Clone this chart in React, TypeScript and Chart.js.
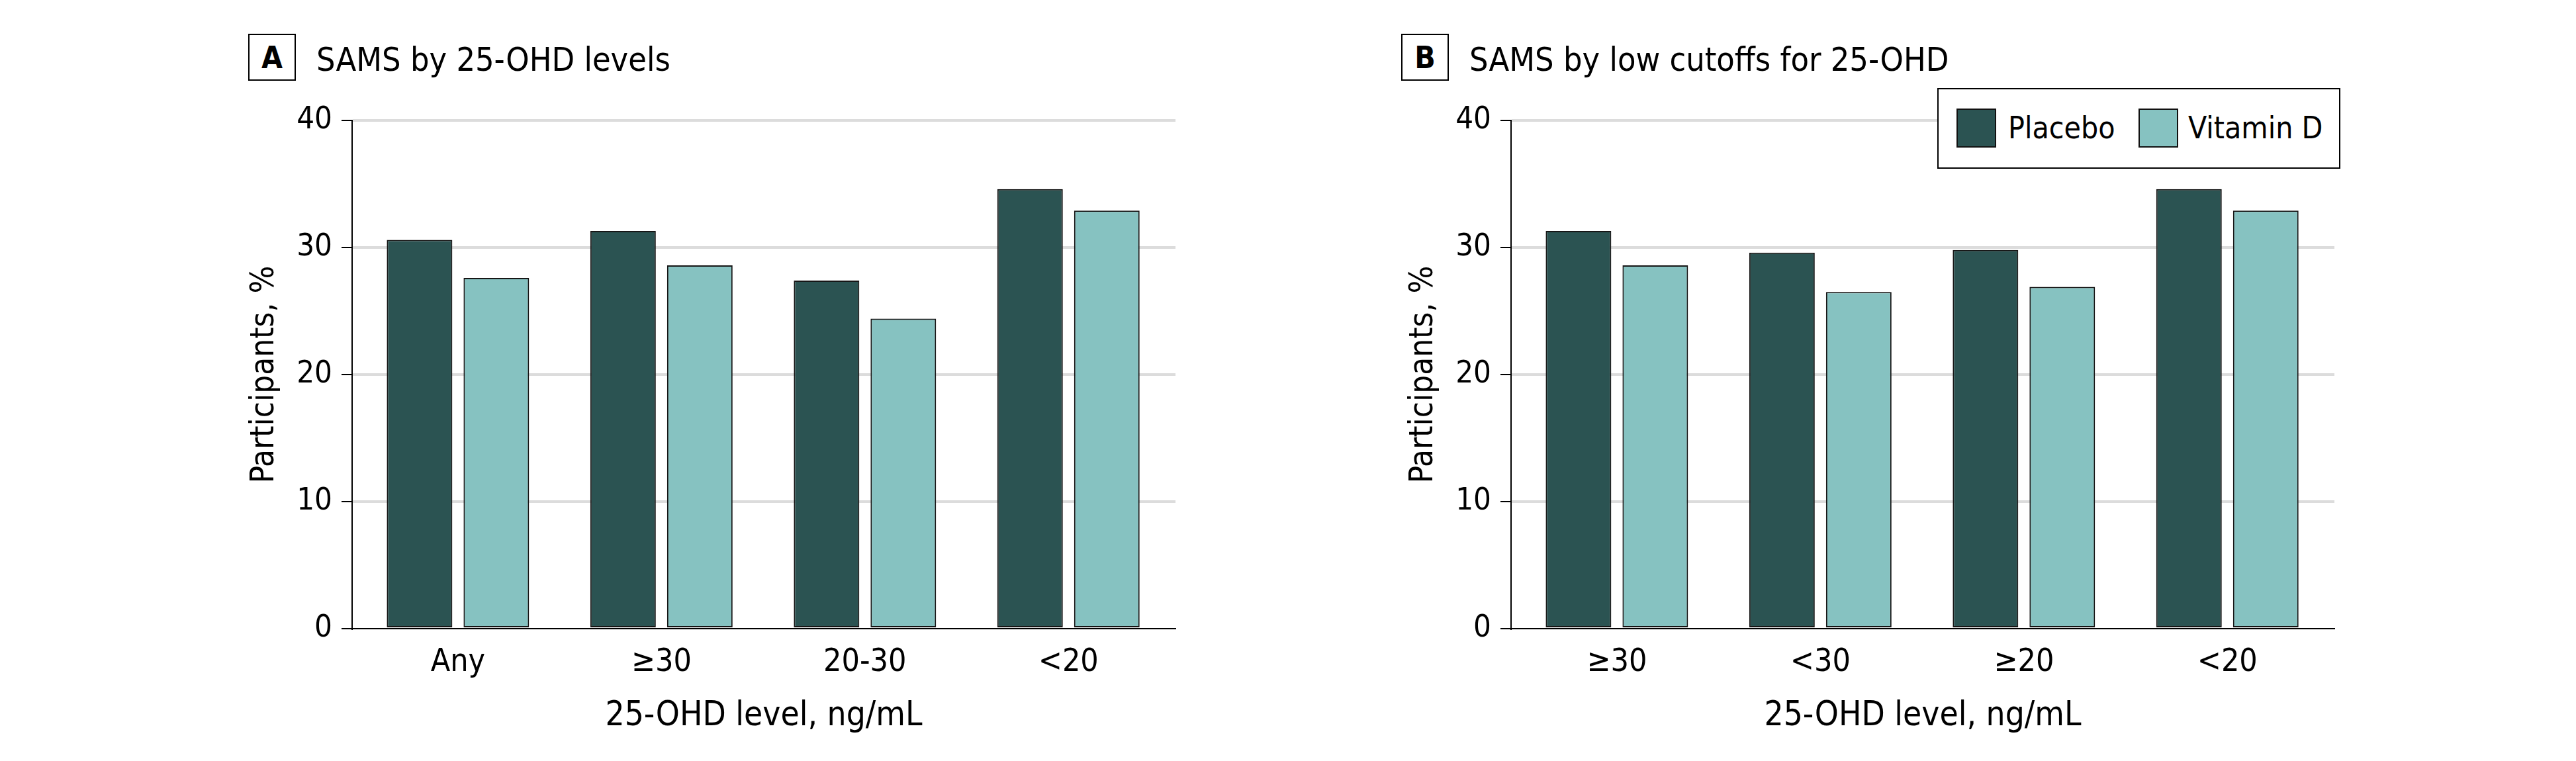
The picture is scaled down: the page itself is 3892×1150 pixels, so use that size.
import React, { useEffect, useRef } from "react";
import { Chart, registerables } from "chart.js";

Chart.register(...registerables);

// ---------- data ----------
const seriesNames = ["Placebo", "Vitamin D"];

const panelACategories = ["Any", "≥30", "20-30", "<20"];
const panelAPlacebo = [30.6, 31.3, 27.4, 34.6];
const panelAVitaminD = [27.6, 28.6, 24.4, 32.9];

const panelBCategories = ["≥30", "<30", "≥20", "<20"];
const panelBPlacebo = [31.3, 29.6, 29.8, 34.6];
const panelBVitaminD = [28.6, 26.5, 26.9, 32.9];

const yTickValues = [0, 10, 20, 30, 40];
const xAxisTitle = "25-OHD level, ng/mL";
const yAxisTitle = "Participants, %";
const panelATitle = "SAMS by 25-OHD levels";
const panelBTitle = "SAMS by low cutoffs for 25-OHD";

// ---------- styles ----------
const FONT = "'DejaVu Sans Condensed', 'DejaVu Sans', sans-serif";
const PLACEBO_COLOR = "#2b5352";
const VITD_COLOR = "#86c2c1";
const BAR_BORDER = "#161616";
const GRID_COLOR = "#dcdcdc";
const X_MIN = -0.52;
const X_MAX = 3.526;

type PanelProps = {
  categories: string[];
  placebo: number[];
  vitaminD: number[];
  left: number;
};

function BarPanel({ categories, placebo, vitaminD, left }: PanelProps) {
  const ref = useRef<HTMLCanvasElement>(null);

  useEffect(() => {
    if (!ref.current) return;
    const chart = new Chart(ref.current, {
      type: "bar",
      data: {
        datasets: [
          {
            label: seriesNames[0],
            data: placebo.map((v, i) => ({ x: i, y: v })),
            backgroundColor: PLACEBO_COLOR,
            borderColor: BAR_BORDER,
            borderWidth: 2,
            borderSkipped: false,
            categoryPercentage: 0.7545,
            barPercentage: 0.8534,
          },
          {
            label: seriesNames[1],
            data: vitaminD.map((v, i) => ({ x: i, y: v })),
            backgroundColor: VITD_COLOR,
            borderColor: BAR_BORDER,
            borderWidth: 2,
            borderSkipped: false,
            categoryPercentage: 0.7545,
            barPercentage: 0.8534,
          },
        ],
      } as any,
      options: {
        responsive: false,
        animation: false,
        devicePixelRatio: 1,
        layout: { padding: { top: 52, right: 54, bottom: 0, left: 0 } },
        plugins: {
          legend: { display: false },
          tooltip: { enabled: false },
        },
        scales: {
          x: {
            type: "linear",
            min: X_MIN,
            max: X_MAX,
            offset: false,
            grid: { display: false, drawTicks: false },
            border: { display: true, color: "#000", width: 2 },
            afterBuildTicks: (axis: any) => {
              axis.ticks = categories.map((_, i) => ({ value: i }));
            },
            afterFit: (scale: any) => {
              scale.height = 180;
            },
            ticks: {
              autoSkip: false,
              maxRotation: 0,
              padding: 23,
              color: "#000",
              font: { family: FONT, size: 48 },
              callback: (v: any) => categories[Math.round(Number(v))] ?? "",
            },
            title: {
              display: true,
              text: xAxisTitle,
              color: "#000",
              font: { family: FONT, size: 51 },
              padding: { top: 0, bottom: 17 },
            },
          },
          y: {
            type: "linear",
            min: 0,
            max: 40,
            afterBuildTicks: (axis: any) => {
              axis.ticks = yTickValues.map((v) => ({ value: v }));
            },
            afterFit: (scale: any) => {
              scale.width = 202;
            },
            grid: {
              color: (c: any) =>
                c.tick && c.tick.value === 0 ? "rgba(0,0,0,0)" : GRID_COLOR,
              lineWidth: 4,
              drawTicks: true,
              tickLength: 16,
              tickColor: "#000",
              tickWidth: 2,
            },
            border: { display: true, color: "#000", width: 2 },
            ticks: {
              padding: 14,
              color: "#000",
              font: { family: FONT, size: 47 },
            },
            title: {
              display: true,
              text: yAxisTitle,
              color: "#000",
              font: { family: FONT, size: 49 },
              padding: { top: 41, bottom: 0 },
            },
          },
        },
      } as any,
    });
    return () => chart.destroy();
  }, []);

  return (
    <canvas
      ref={ref}
      width={1500}
      height={1000}
      style={{
        position: "absolute",
        left,
        top: 130,
        width: 1500,
        height: 1000,
        display: "block",
      }}
    />
  );
}

function PanelHeader({ letter, text, boxLeft }: { letter: string; text: string; boxLeft: number }) {
  return (
    <>
      <div
        style={{
          position: "absolute",
          left: boxLeft,
          top: 51,
          width: 72,
          height: 71,
          boxSizing: "border-box",
          border: "2px solid #000",
          display: "flex",
          alignItems: "center",
          justifyContent: "center",
          fontFamily: FONT,
          fontWeight: "bold",
          fontSize: 46,
          lineHeight: "46px",
          color: "#000",
        }}
      >
        {letter}
      </div>
      <div
        style={{
          position: "absolute",
          left: boxLeft + 103,
          top: 65,
          fontFamily: FONT,
          fontSize: 50,
          lineHeight: "50px",
          whiteSpace: "nowrap",
          color: "#000",
        }}
      >
        {text}
      </div>
    </>
  );
}

function Legend() {
  const itemText: React.CSSProperties = {
    position: "absolute",
    top: 29,
    height: 59,
    lineHeight: "59px",
    fontFamily: FONT,
    fontSize: 46,
    whiteSpace: "nowrap",
    color: "#000",
  };
  const swatch: React.CSSProperties = {
    position: "absolute",
    top: 29,
    width: 60,
    height: 59,
    boxSizing: "border-box",
    border: "2px solid #111",
  };
  return (
    <div
      style={{
        position: "absolute",
        left: 2927,
        top: 133,
        width: 609,
        height: 122,
        boxSizing: "border-box",
        border: "2px solid #000",
        background: "#fff",
      }}
    >
      <div style={{ ...swatch, left: 27, background: PLACEBO_COLOR }} />
      <div style={{ ...itemText, left: 105 }}>{seriesNames[0]}</div>
      <div style={{ ...swatch, left: 302, background: VITD_COLOR }} />
      <div style={{ ...itemText, left: 377 }}>{seriesNames[1]}</div>
    </div>
  );
}

export default function App() {
  return (
    <div
      style={{
        position: "fixed",
        left: 0,
        top: 0,
        width: 3892,
        height: 1150,
        background: "#fff",
        overflow: "hidden",
      }}
    >
      <PanelHeader letter="A" text={panelATitle} boxLeft={375} />
      <PanelHeader letter="B" text={panelBTitle} boxLeft={2117} />
      <BarPanel
        categories={panelACategories}
        placebo={panelAPlacebo}
        vitaminD={panelAVitaminD}
        left={330}
      />
      <BarPanel
        categories={panelBCategories}
        placebo={panelBPlacebo}
        vitaminD={panelBVitaminD}
        left={2081}
      />
      <Legend />
    </div>
  );
}
